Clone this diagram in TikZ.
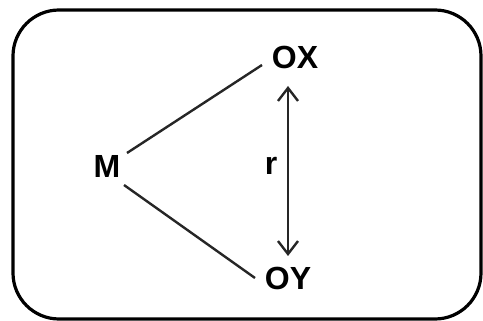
\documentclass[tikz,border=0pt]{standalone}
\usepackage{fontspec}
\setmainfont{Liberation Sans}
\usetikzlibrary{arrows.meta}
\begin{document}
\begin{tikzpicture}[x=1pt,y=-1pt,
  lbl/.style={inner sep=0pt,font=\fontsize{32}{38}\selectfont\bfseries},
  conn/.style={line width=2.4pt,black!85},
  dbl/.style={line width=2.4pt,black!85,{Straight Barb[length=13pt,width=20pt]}-{Straight Barb[length=13pt,width=20pt]}},
  frame/.style={line width=3.2pt,rounded corners=46pt}]
\useasboundingbox (0,0) rectangle (483,321);
\draw[frame] (13,10) rectangle (481,319);
\node[lbl] (M) at (107,166) {M};
\node[lbl] (OX) at (295,57) {OX};
\node[lbl] (OY) at (288,278) {OY};
\node[lbl] (r) at (271,166) {r};
\coordinate (mt) at (127,153);
\coordinate (xt) at (262,65);
\coordinate (mb) at (124,185);
\coordinate (yb) at (255,278);
\draw[conn] (mt) -- (xt);
\draw[conn] (mb) -- (yb);
\coordinate (at) at (288,86);
\coordinate (ab) at (288,256);
\draw[dbl] (at) -- (ab);
\end{tikzpicture}
\end{document}
